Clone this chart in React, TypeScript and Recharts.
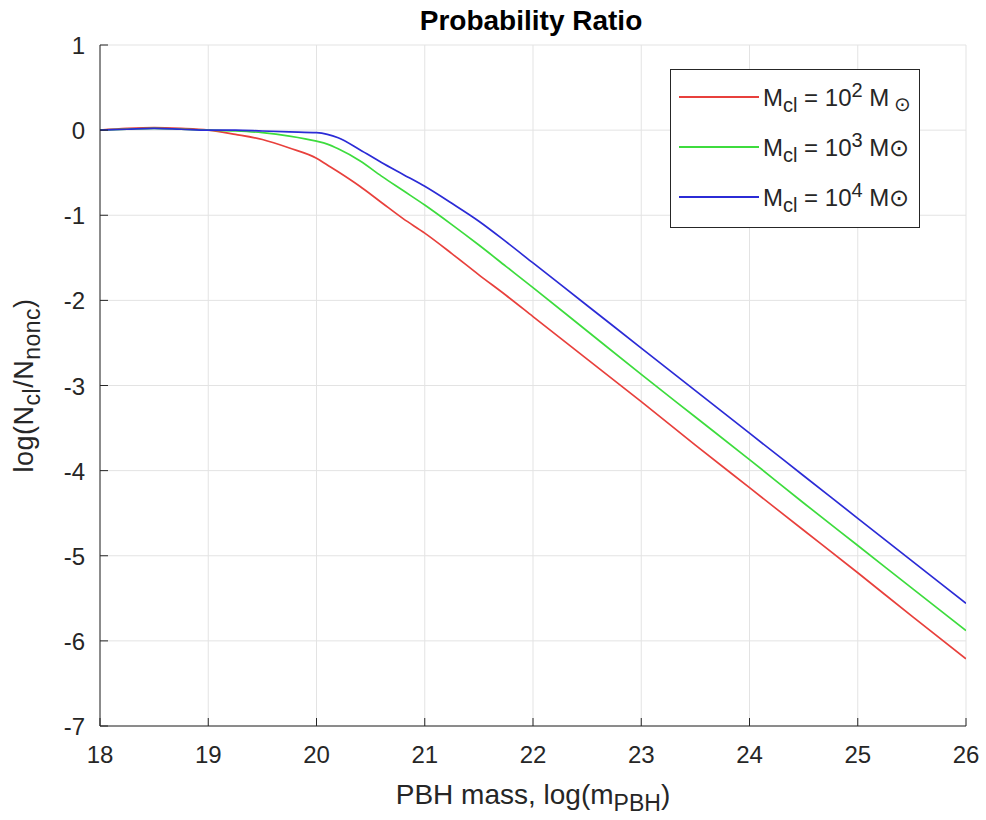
import {
  LineChart,
  Line,
  XAxis,
  YAxis,
  CartesianGrid,
} from "recharts";

const massLog = [
  18, 18.25, 18.5, 18.75, 19, 19.25, 19.5, 19.75, 20, 20.1, 20.2, 20.4, 20.6, 20.8, 21,
  21.25, 21.5, 21.75, 22, 22.5, 23, 23.5, 24, 24.5, 25, 25.5, 26,
];
const ratio1e2 = [
  0, 0.02, 0.03, 0.02, 0, -0.05, -0.11, -0.21, -0.33, -0.41, -0.49, -0.66, -0.85, -1.04,
  -1.21, -1.45, -1.7, -1.94, -2.19, -2.69, -3.19, -3.7, -4.2, -4.7, -5.2, -5.71, -6.21,
];
const ratio1e3 = [
  0, 0.01, 0.02, 0.01, 0, -0.01, -0.03, -0.07, -0.13, -0.165, -0.22, -0.36, -0.54, -0.71,
  -0.88, -1.11, -1.35, -1.6, -1.85, -2.36, -2.87, -3.37, -3.87, -4.38, -4.88, -5.38, -5.88,
];
const ratio1e4 = [
  0, 0.01, 0.02, 0.01, 0, 0, -0.01, -0.02, -0.03, -0.05, -0.09, -0.23, -0.38, -0.52, -0.66,
  -0.86, -1.07, -1.31, -1.56, -2.06, -2.56, -3.06, -3.56, -4.06, -4.56, -5.06, -5.56,
];
const xTicks = [18, 19, 20, 21, 22, 23, 24, 25, 26];
const yTicks = [-7, -6, -5, -4, -3, -2, -1, 0, 1];

const FONT = "'Liberation Sans', Arial, Helvetica, sans-serif";
const INK = "#262626";

const series = [
  { key: "r2", exp: "2", color: "#e8403c", subSun: true },
  { key: "r3", exp: "3", color: "#3ddc3d", subSun: false },
  { key: "r4", exp: "4", color: "#2b2bd6", subSun: false },
];

const data = massLog.map((m, i) => ({
  m,
  r2: ratio1e2[i],
  r3: ratio1e3[i],
  r4: ratio1e4[i],
}));

function XTick(props: any) {
  const { x, y, payload } = props;
  return (
    <g>
      <line x1={x} y1={y} x2={x} y2={y - 8} stroke={INK} />
      <text x={x} y={y + 37} textAnchor="middle" fontSize={24} fill={INK} fontFamily={FONT}>
        {payload.value}
      </text>
    </g>
  );
}

function YTick(props: any) {
  const { x, y, payload } = props;
  return (
    <g>
      <line x1={x} y1={y} x2={x + 8} y2={y} stroke={INK} />
      <text x={x - 15} y={y + 9} textAnchor="end" fontSize={24} fill={INK} fontFamily={FONT}>
        {payload.value}
      </text>
    </g>
  );
}

function XTitle(props: any) {
  const vb = props.viewBox;
  const cx = vb.x + vb.width / 2;
  return (
    <text x={cx} y={vb.y + 78} textAnchor="middle" fontSize={28} fill={INK} fontFamily={FONT}>
      PBH mass, log(m
      <tspan baselineShift="-30%" fontSize={23}>PBH</tspan>
      <tspan>)</tspan>
    </text>
  );
}

function YTitle(props: any) {
  const vb = props.viewBox;
  const cx = 33;
  const cy = vb.y + vb.height / 2;
  return (
    <text
      x={cx}
      y={cy}
      transform={`rotate(-90, ${cx}, ${cy})`}
      textAnchor="middle"
      fontSize={27}
      letterSpacing={0.5}
      fill={INK}
      fontFamily={FONT}
    >
      log(N
      <tspan baselineShift="-30%" fontSize={23}>cl</tspan>
      <tspan>/N</tspan>
      <tspan baselineShift="-30%" fontSize={23}>nonc</tspan>
      <tspan>)</tspan>
    </text>
  );
}

function LegendBox() {
  return (
    <div
      style={{
        position: "absolute",
        left: 670,
        top: 69,
        border: `1.5px solid ${INK}`,
        background: "#fff",
        width: 250,
        height: 159,
        boxSizing: "border-box",
        padding: "2px 0 0 8px",
        fontFamily: FONT,
        fontSize: 24,
        color: INK,
      }}
    >
      {series.map((s) => (
        <div key={s.key} style={{ display: "flex", alignItems: "center", height: 50, whiteSpace: "nowrap" }}>
          <div style={{ width: 80, height: 0, borderTop: `2px solid ${s.color}`, marginRight: 4 }} />
          <span style={{ lineHeight: "24px" }}>
            M<sub style={{ fontSize: 20 }}>cl</sub> = 10<sup style={{ fontSize: 20 }}>{s.exp}</sup>{" "}
            M{s.subSun ? <sub style={{ fontSize: 20, marginLeft: 5 }}>⊙</sub> : "⊙"}
          </span>
        </div>
      ))}
    </div>
  );
}

export default function App() {
  return (
    <div style={{ position: "absolute", left: 0, top: 0, width: 986, height: 820, background: "#fff" }}>
      <div
        style={{
          position: "absolute",
          left: 0,
          width: 986,
          top: 5,
          textAlign: "center",
          paddingLeft: 76,
          boxSizing: "border-box",
          fontFamily: FONT,
          fontWeight: "bold",
          fontSize: 28,
          color: "#000",
        }}
      >
        Probability Ratio
      </div>
      <LineChart
        width={986}
        height={820}
        data={data}
        margin={{ top: 45, right: 20, bottom: 34, left: 40 }}
      >
        <CartesianGrid stroke="#e3e3e3" />
        <XAxis
          dataKey="m"
          type="number"
          domain={[18, 26]}
          ticks={xTicks}
          height={60}
          tickSize={0}
          tickMargin={0}
          tick={<XTick />}
          stroke={INK}
          label={{ content: <XTitle /> }}
          allowDataOverflow
        />
        <YAxis
          type="number"
          domain={[-7, 1]}
          ticks={yTicks}
          width={60}
          tickSize={0}
          tickMargin={0}
          tick={<YTick />}
          stroke={INK}
          label={{ content: <YTitle /> }}
          allowDataOverflow
        />
        {series.map((s) => (
          <Line
            key={s.key}
            dataKey={s.key}
            type="monotone"
            stroke={s.color}
            strokeWidth={1.7}
            dot={false}
            isAnimationActive={false}
          />
        ))}
      </LineChart>
      <LegendBox />
    </div>
  );
}
